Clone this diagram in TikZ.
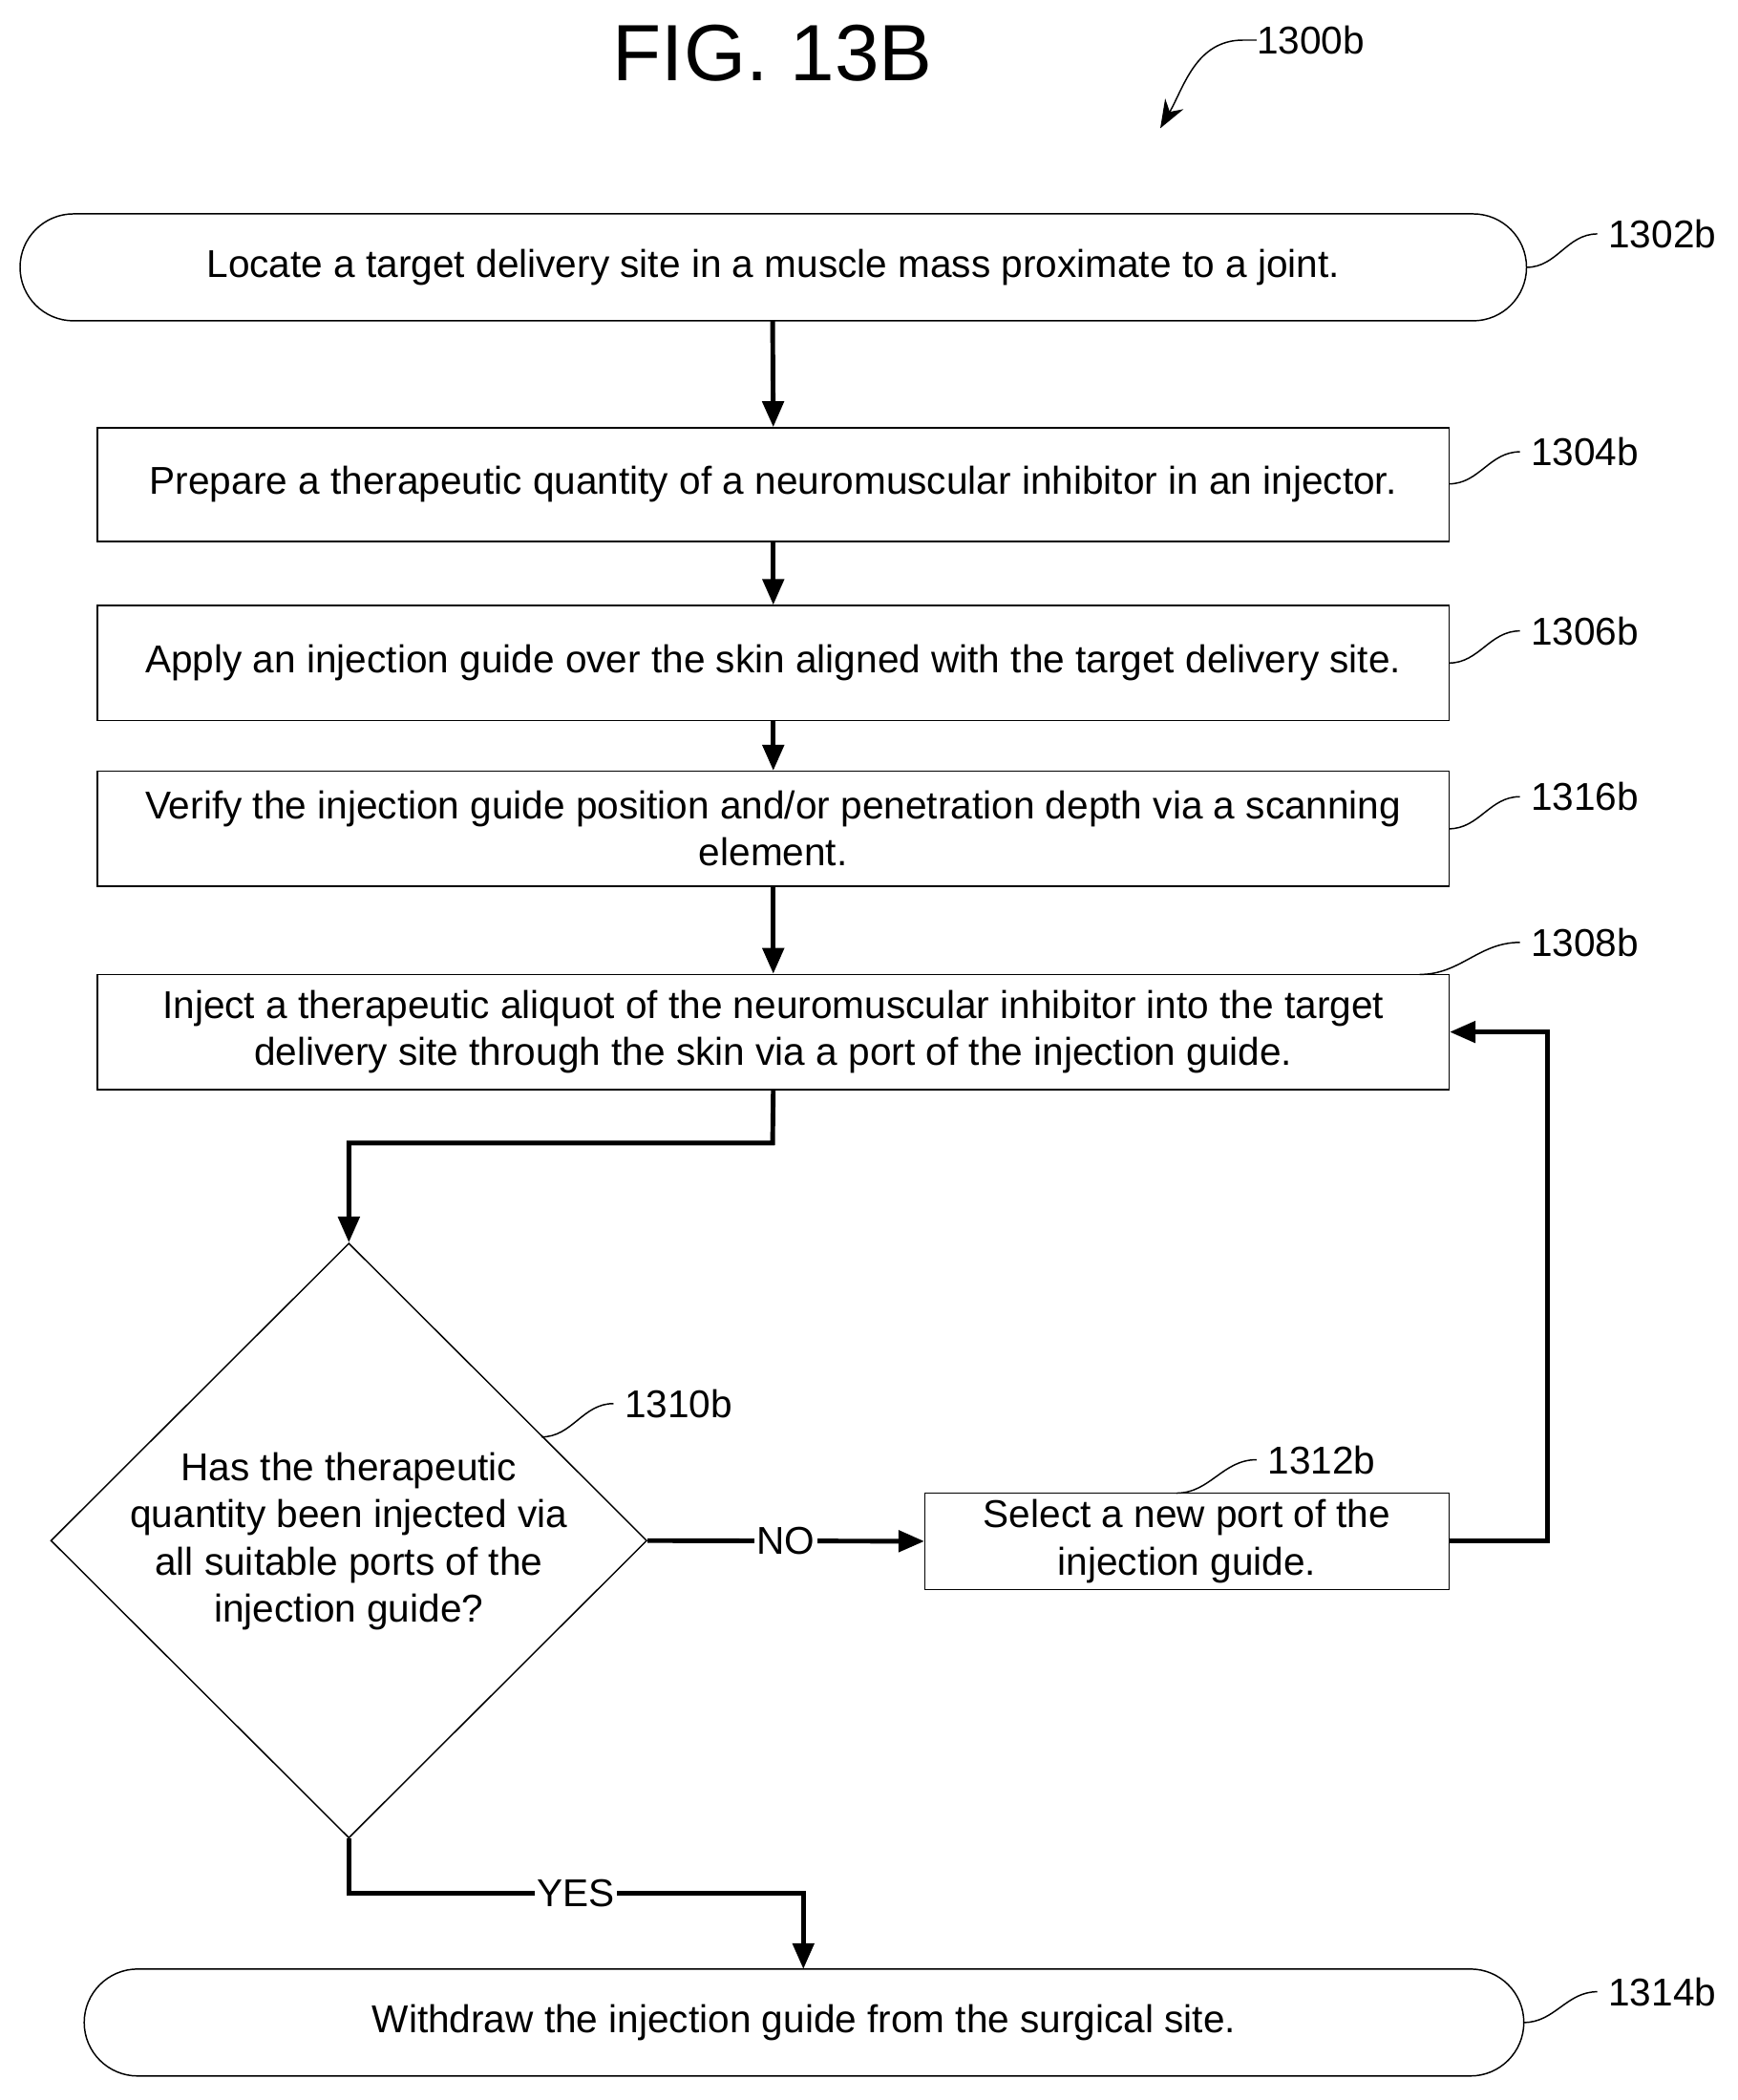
\documentclass[tikz,border=0pt]{standalone}
\usepackage{fontspec}
\setmainfont{Liberation Sans}
\usetikzlibrary{shapes.geometric,shapes.misc,arrows.meta}
\begin{document}
\begin{tikzpicture}[x=0.02cm,y=-0.02cm,
  txt/.style={font=\fontsize{16.5}{20}\selectfont,align=center},
  box/.style={draw,line width=0.6pt,txt,inner sep=0pt},
  term/.style={box,rounded rectangle},
  flow/.style={line width=2pt,-{Triangle[length=11pt,width=9pt]}},
  lead/.style={line width=0.6pt},
  ref/.style={font=\fontsize{16.5}{20}\selectfont,anchor=west,inner sep=0pt}]
\useasboundingbox (0,0) rectangle (1300,1571);
\node[font=\fontsize{34}{36}\selectfont] (title) at (578,40) {FIG. 13B};
\node[ref] (r1300) at (940,30) {1300b};
\draw[lead,-{Stealth[length=12pt,width=9pt]}] (r1300.west) -- ++(-10,0) to[out=180,in=60] (868,96);

\node[term,minimum width=1127*0.02cm,minimum height=80*0.02cm] (n1302) at (578.5,200) {Locate a target delivery site in a muscle mass proximate to a joint.};
\node[box,minimum width=1011*0.02cm,minimum height=85*0.02cm] (n1304) at (578.5,362.5) {Prepare a therapeutic quantity of a neuromuscular inhibitor in an injector.};
\node[box,minimum width=1011*0.02cm,minimum height=86*0.02cm] (n1306) at (578.5,496) {Apply an injection guide over the skin aligned with the target delivery site.};
\node[box,minimum width=1011*0.02cm,minimum height=86*0.02cm] (n1316) at (578.5,620) {Verify the injection guide position and/or penetration depth via a scanning\\element.};
\node[box,minimum width=1011*0.02cm,minimum height=86*0.02cm] (n1308) at (578.5,772) {Inject a therapeutic aliquot of the neuromuscular inhibitor into the target\\delivery site through the skin via a port of the injection guide.};
\node[diamond,draw,line width=0.6pt,txt,minimum width=446*0.02cm,minimum height=445*0.02cm,inner sep=0pt] (n1310) at (261,1152.5) {};
\node[txt] (t1310) at (261,1153) {Has the therapeutic\\quantity been injected via\\all suitable ports of the\\injection guide?};
\node[box,minimum width=392*0.02cm,minimum height=72*0.02cm] (n1312) at (888,1153) {Select a new port of the\\injection guide.};
\node[term,minimum width=1077*0.02cm,minimum height=80*0.02cm] (n1314) at (601.5,1513) {Withdraw the injection guide from the surgical site.};
\coordinate (n1302b) at (578,240);
\coordinate (n1314t) at (601,1473);

\draw[flow] (n1302b) -- (n1304.north);
\draw[flow] (n1304.south) -- (n1306.north);
\draw[flow] (n1306.south) -- (n1316.north);
\draw[flow] (n1316.south) -- (n1308.north);
\draw[flow] (n1308.south) -- (578,855) -- (261,855) -- (n1310.north);
\draw[flow] (n1310.east) -- node[fill=white,inner sep=1pt,font=\fontsize{16.5}{20}\selectfont] (no) {NO} (n1312.west);
\draw[flow] (n1312.east) -- (1158,1153) -- (1158,772) -- (n1308.east);
\draw[flow] (n1310.south) -- (261,1416) -- node[fill=white,inner sep=1pt,font=\fontsize{16.5}{20}\selectfont,pos=0.5] (yes) {YES} (601,1416) -- (n1314t);

\node[ref] (r1302) at (1203,175) {1302b};
\draw[lead] (1142,200) to[out=0,in=180] (1195,175);
\node[ref] (r1304) at (1145,338) {1304b};
\draw[lead] (1084,362) to[out=0,in=180] (1137,338);
\node[ref] (r1306) at (1145,472) {1306b};
\draw[lead] (1084,496) to[out=0,in=180] (1137,472);
\node[ref] (r1316) at (1145,596) {1316b};
\draw[lead] (1084,620) to[out=0,in=180] (1137,596);
\node[ref] (r1308) at (1145,705) {1308b};
\draw[lead] (1062,729) to[out=0,in=180] (1137,705);
\node[ref] (r1310) at (467,1050) {1310b};
\draw[lead] (405,1075) to[out=0,in=180] (459,1050);
\node[ref] (r1312) at (948,1092) {1312b};
\draw[lead] (880,1117) to[out=0,in=180] (940,1092);
\node[ref] (r1314) at (1203,1490) {1314b};
\draw[lead] (1140,1513) to[out=0,in=180] (1195,1490);
\end{tikzpicture}
\end{document}
